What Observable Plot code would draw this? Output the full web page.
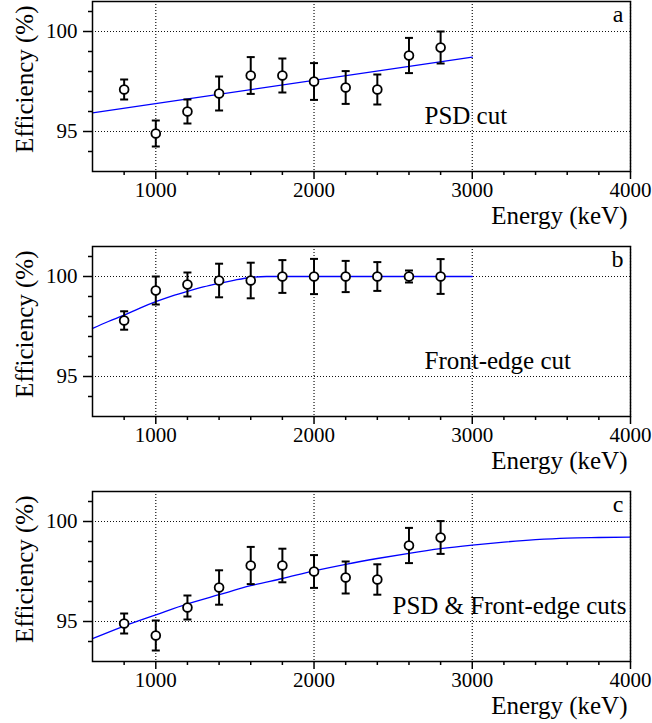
<!DOCTYPE html>
<html><head><meta charset="utf-8">
<script src="https://cdn.jsdelivr.net/npm/d3@7"></script>
<script src="https://cdn.jsdelivr.net/npm/@observablehq/plot@0.6"></script>
<style>
html,body{margin:0;padding:0;background:#fff;font-family:"Liberation Serif",serif;}
svg{display:block;}
</style>
</head><body><div id="chart"></div>
<script>
// ---- data ----
const energies = [800, 1000, 1200, 1400, 1600, 1800, 2000, 2200, 2400, 2600, 2800];

const psdEff = [97.1, 94.9, 96.0, 96.9, 97.8, 97.8, 97.5, 97.2, 97.1, 98.8, 99.2];
const psdErr = [0.5, 0.65, 0.6, 0.85, 0.92, 0.85, 0.92, 0.82, 0.75, 0.88, 0.8];

const frontEff = [97.8, 99.3, 99.6, 99.8, 99.8, 100, 100, 100, 100, 100, 100];
const frontErr = [0.46, 0.7, 0.6, 0.84, 0.89, 0.82, 0.88, 0.78, 0.72, 0.3, 0.87];

const bothEff = [94.9, 94.3, 95.7, 96.7, 97.8, 97.8, 97.5, 97.2, 97.1, 98.8, 99.2];
const bothErr = [0.5, 0.75, 0.6, 0.86, 0.93, 0.84, 0.82, 0.8, 0.76, 0.88, 0.82];

// fit curves
const fitAEnergy = [600, 3000];
const fitAEff = [95.93, 98.72];
const fitBEnergy = [600, 700, 800, 900, 1000, 1100, 1200, 1300, 1400, 1500, 1600, 1700, 3000];
const fitBEff = [97.4, 97.75, 98.07, 98.42, 98.74, 99.02, 99.26, 99.48, 99.66, 99.82, 99.95, 100, 100];
const fitCEnergy = [600, 800, 1000, 1200, 1400, 1600, 1800, 2000, 2200, 2400, 2600, 2800, 3000, 3200, 3400, 3600, 3800, 4000];
const fitCEff = [94.14, 94.77, 95.33, 95.88, 96.34, 96.79, 97.15, 97.53, 97.86, 98.15, 98.41, 98.64, 98.82, 98.97, 99.09, 99.17, 99.2, 99.22];

// axes
const xDomain = [600, 4000];
const yDomain = [93, 101.5];
const xMajorTicks = [1000, 2000, 3000, 4000];
const xMinorTicks = [800, 1200, 1400, 1600, 1800, 2200, 2400, 2600, 2800, 3200, 3400, 3600, 3800];
const yMajorTicks = [95, 100];
const yMinorTicks = [94, 96, 97, 98, 99, 101];

// texts
const panelLetters = ["a", "b", "c"];
const cutLabels = ["PSD cut", "Front-edge cut", "PSD & Front-edge cuts"];
const xTitle = "Energy (keV)";
const yTitle = "Efficiency (%)";

// ---- drawing ----
const FONT = "Liberation Serif";
const capSymbol = {draw(ctx, size) { const r = Math.sqrt(size / Math.PI); ctx.moveTo(-r, 0); ctx.lineTo(r, 0); }};

function panel({eff, err, fitX, fitY, letter, label, labelDx, height}) {
  const pts = energies.map((e, i) => ({x: e, y: eff[i], lo: eff[i] - err[i], hi: eff[i] + err[i]}));
  const fit = fitX.map((x, i) => ({x, y: fitY[i]}));
  const svg = Plot.plot({
    width: 652, height,
    marginLeft: 92, marginRight: 22, marginTop: 1, marginBottom: height - 171,
    x: {domain: xDomain},
    y: {domain: yDomain},
    style: "font-family: 'Liberation Serif', serif; font-size: 21px; color: black; background: white; overflow: visible;",
    marks: [
      Plot.gridX(xMajorTicks, {stroke: "#111", strokeOpacity: 1, strokeDasharray: "1,2", strokeWidth: 1.2}),
      Plot.gridY(yMajorTicks, {stroke: "#111", strokeOpacity: 1, strokeDasharray: "1,2", strokeWidth: 1.2}),
      Plot.axisX(xMinorTicks, {tickSize: 4, text: null, label: null, strokeWidth: 1.5}),
      Plot.axisX(xMajorTicks, {tickSize: 8, tickPadding: 3, tickFormat: d3.format("d"), label: null, strokeWidth: 1.5, fontSize: 21}),
      Plot.axisY(yMinorTicks, {tickSize: 4, text: null, label: null, strokeWidth: 1.5}),
      Plot.axisY(yMajorTicks, {tickSize: 9, tickPadding: 6, label: null, strokeWidth: 1.5, fontSize: 21}),
      Plot.line(fit, {x: "x", y: "y", stroke: "#0000ff", strokeWidth: 1.3, curve: "monotone-x"}),
      Plot.ruleX(pts, {x: "x", y1: "lo", y2: "hi", stroke: "black", strokeWidth: 2}),
      Plot.dot(pts, {x: "x", y: "lo", symbol: capSymbol, r: 4, fill: "none", stroke: "black", strokeWidth: 2}),
      Plot.dot(pts, {x: "x", y: "hi", symbol: capSymbol, r: 4, fill: "none", stroke: "black", strokeWidth: 2}),
      Plot.dot(pts, {x: "x", y: "y", r: 4.4, fill: "white", stroke: "black", strokeWidth: 1.8}),
      Plot.frame({stroke: "black", strokeWidth: 1.5}),
      Plot.text([letter], {text: d => d, frameAnchor: "top-right", dx: -7, dy: 20, lineAnchor: "bottom", textAnchor: "end", fontSize: 24}),
      Plot.text([label], {text: d => d, frameAnchor: "top-left", dx: labelDx, dy: 122, lineAnchor: "bottom", textAnchor: "start", fontSize: 25}),
      Plot.text([xTitle], {text: d => d, frameAnchor: "bottom-right", dx: -3, dy: 52, lineAnchor: "bottom", textAnchor: "end", fontSize: 25}),
      Plot.text([yTitle], {text: d => d, frameAnchor: "top-left", rotate: -90, dx: -60, dy: 4, lineAnchor: "bottom", textAnchor: "end", fontSize: 25})
    ]
  });
  // force the serif face on every text node
  const s = d3.select(svg);
  s.attr("font-family", FONT);
  s.selectAll("g, text").attr("font-family", FONT).style("font-family", FONT);
  return svg;
}

const root = document.getElementById("chart");
root.append(panel({eff: psdEff, err: psdErr, fitX: fitAEnergy, fitY: fitAEff, letter: panelLetters[0], label: cutLabels[0], labelDx: 332, height: 245}));
root.append(panel({eff: frontEff, err: frontErr, fitX: fitBEnergy, fitY: fitBEff, letter: panelLetters[1], label: cutLabels[1], labelDx: 332, height: 245}));
root.append(panel({eff: bothEff, err: bothErr, fitX: fitCEnergy, fitY: fitCEff, letter: panelLetters[2], label: cutLabels[2], labelDx: 300, height: 233}));
</script>
</body></html>
